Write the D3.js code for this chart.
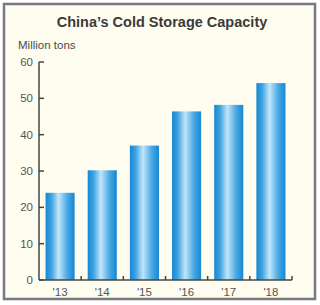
<!DOCTYPE html>
<html>
<head>
<meta charset="utf-8">
<script src="https://cdn.jsdelivr.net/npm/d3@7"></script>
<style>
  body { margin: 0; background: #fff; }
  text { font-family: "Liberation Sans", Arial, sans-serif; }
</style>
</head>
<body>
<div id="chart"></div>
<script>
// data
var years = ["'13", "'14", "'15", "'16", "'17", "'18"];
var capacity = [24, 30.2, 37, 46.4, 48.2, 54.2];
var yTicks = [0, 10, 20, 30, 40, 50, 60];

var W = 320, H = 305;

var svg = d3.select("#chart")
            .append("svg")
            .attr("width", W)
            .attr("height", H);

// frame
svg.append("rect")
   .attr("x", 4).attr("y", 4)
   .attr("width", 311).attr("height", 295)
   .attr("fill", "#fffdf0")
   .attr("stroke", "#7a7a7a")
   .attr("stroke-width", 2.5);

// bar gradient
var grad = svg.append("defs").append("linearGradient")
              .attr("id", "barGrad")
              .attr("x1", "0%").attr("x2", "100%")
              .attr("y1", "0%").attr("y2", "0%");
grad.append("stop").attr("offset", "0%").attr("stop-color", "#1587d2");
grad.append("stop").attr("offset", "20%").attr("stop-color", "#3fa3e2");
grad.append("stop").attr("offset", "45%").attr("stop-color", "#c2e5f8");
grad.append("stop").attr("offset", "75%").attr("stop-color", "#4aa9e4");
grad.append("stop").attr("offset", "100%").attr("stop-color", "#1587d2");

// title
svg.append("text")
   .attr("x", 162).attr("y", 27)
   .attr("text-anchor", "middle")
   .attr("font-size", 14.5)
   .attr("font-weight", "bold")
   .attr("fill", "#3a3a3a")
   .text("China\u2019s Cold Storage Capacity");

svg.append("text")
   .attr("x", 18).attr("y", 49)
   .attr("font-size", 11.5)
   .attr("fill", "#4a4a4a")
   .text("Million tons");

// scales
var x = d3.scaleBand()
          .domain(years)
          .range([39, 292])
          .paddingInner(0.31)
          .paddingOuter(0.155);

var y = d3.scaleLinear()
          .domain([0, 60])
          .range([280, 62]);

// bars
svg.selectAll("rect.bar")
   .data(capacity)
   .enter()
   .append("rect")
   .attr("class", "bar")
   .attr("x", function (d, i) { return x(years[i]); })
   .attr("y", function (d) { return y(d); })
   .attr("width", x.bandwidth())
   .attr("height", function (d) { return y(0) - y(d); })
   .attr("fill", "url(#barGrad)");

// y axis: line and ticks pointing right
var axisColor = "#444";
svg.append("line")
   .attr("x1", 39).attr("x2", 39)
   .attr("y1", y(60)).attr("y2", y(0))
   .attr("stroke", axisColor).attr("stroke-width", 1.5);

svg.selectAll("line.ytick")
   .data(yTicks)
   .enter()
   .append("line")
   .attr("class", "ytick")
   .attr("x1", 39).attr("x2", 44)
   .attr("y1", function (d) { return y(d); })
   .attr("y2", function (d) { return y(d); })
   .attr("stroke", axisColor).attr("stroke-width", 1.5);

svg.selectAll("text.ylab")
   .data(yTicks)
   .enter()
   .append("text")
   .attr("class", "ylab")
   .attr("x", 33)
   .attr("y", function (d) { return y(d) + 4; })
   .attr("text-anchor", "end")
   .attr("font-size", 11.5)
   .attr("fill", "#555")
   .text(function (d) { return d; });

// x axis baseline with small upward ticks between bars
svg.append("line")
   .attr("x1", 39).attr("x2", 292)
   .attr("y1", y(0)).attr("y2", y(0))
   .attr("stroke", axisColor).attr("stroke-width", 1.5);

// tick halfway through the gap after each bar
var gap = x.step() - x.bandwidth();
svg.selectAll("line.xtick")
   .data(years)
   .enter()
   .append("line")
   .attr("class", "xtick")
   .attr("x1", function (d) { return x(d) + x.bandwidth() + gap / 2; })
   .attr("x2", function (d) { return x(d) + x.bandwidth() + gap / 2; })
   .attr("y1", y(0)).attr("y2", y(0) - 4)
   .attr("stroke", axisColor).attr("stroke-width", 1.5);

svg.selectAll("text.xlab")
   .data(years)
   .enter()
   .append("text")
   .attr("class", "xlab")
   .attr("x", function (d) { return x(d) + x.bandwidth() / 2; })
   .attr("y", 296)
   .attr("text-anchor", "middle")
   .attr("font-size", 11.5)
   .attr("fill", "#555")
   .text(function (d) { return d; });
</script>
</body>
</html>
